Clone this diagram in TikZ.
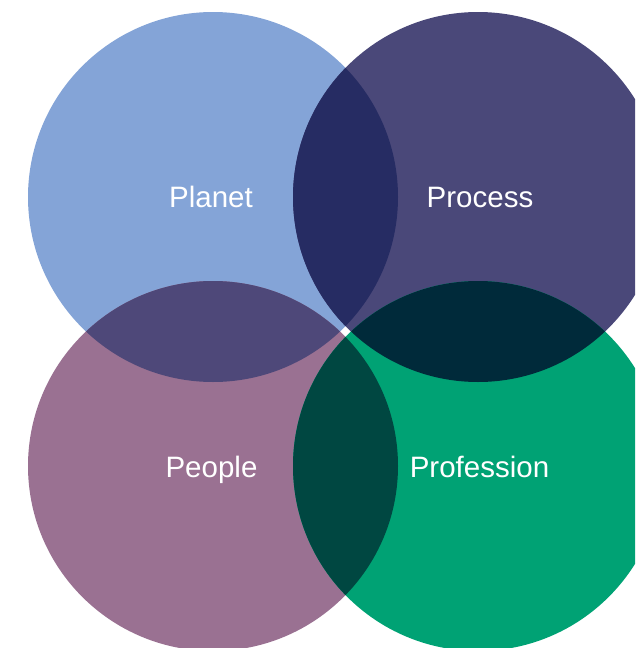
\documentclass[tikz,border=0pt]{standalone}
\usepackage{fontspec}
\setmainfont{Liberation Sans}
\definecolor{cPlanet}{HTML}{84A4D7}
\definecolor{cProcess}{HTML}{4A4879}
\definecolor{cPeople}{HTML}{9A7192}
\definecolor{cProf}{HTML}{00A274}
\definecolor{cPlPr}{HTML}{262C63}
\definecolor{cPlPe}{HTML}{4E4879}
\definecolor{cPrPf}{HTML}{002A3A}
\definecolor{cPePf}{HTML}{004741}
\begin{document}
\begin{tikzpicture}[x=1pt,y=-1pt,
  lbl/.style={text=white,font=\fontsize{29.5}{30}\selectfont,anchor=base,inner sep=0pt}]
\useasboundingbox (0,0) rectangle (635,648);
\clip (0,0) rectangle (635,648);
\def\R{185}
\coordinate (cA) at (213,197);
\coordinate (cB) at (478,197);
\coordinate (cC) at (213,466);
\coordinate (cD) at (478,466);
\fill[cPlanet] (cA) circle (\R);
\fill[cProcess] (cB) circle (\R);
\fill[cPeople] (cC) circle (\R);
\fill[cProf] (cD) circle (\R);
\begin{scope}\clip (cA) circle (\R); \fill[cPlPr] (cB) circle (\R); \end{scope}
\begin{scope}\clip (cA) circle (\R); \fill[cPlPe] (cC) circle (\R); \end{scope}
\begin{scope}\clip (cB) circle (\R); \fill[cPrPf] (cD) circle (\R); \end{scope}
\begin{scope}\clip (cC) circle (\R); \fill[cPePf] (cD) circle (\R); \end{scope}
\node[lbl] (planet) at (211,207.5) {Planet};
\node[lbl] (process) at (480,207.5) {Process};
\node[lbl] (people) at (211.5,477.5) {People};
\node[lbl] (profession) at (479.5,477.5) {Profession};
\end{tikzpicture}
\end{document}
